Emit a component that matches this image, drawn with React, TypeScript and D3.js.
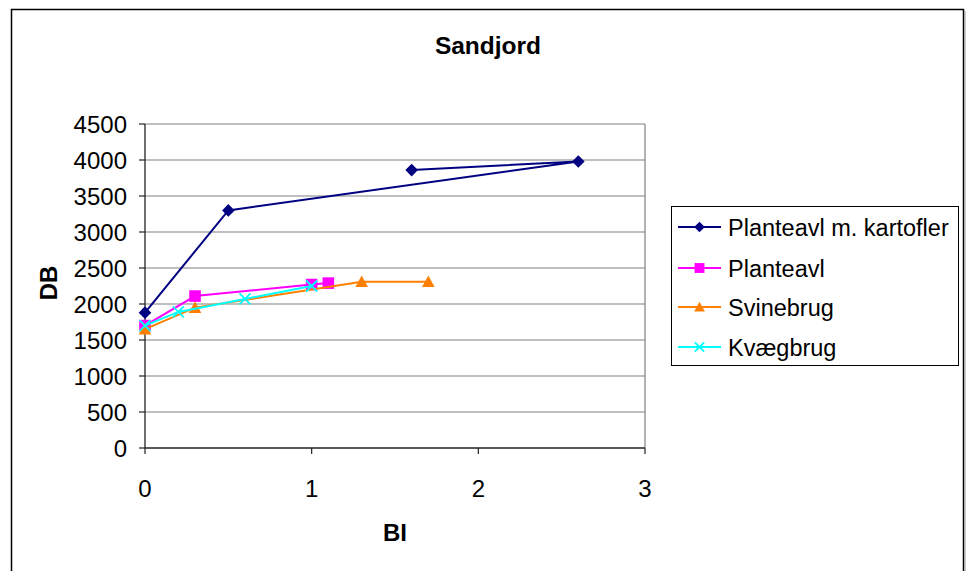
import React from "react";
import * as d3 from "d3";

// BI (x) and DB (y) values for each farm type, in plotting order
const kartoflerBI = [0, 0.5, 2.6, 1.6];
const kartoflerDB = [1880, 3300, 3980, 3860];

const planteavlBI = [0, 0.3, 1.0, 1.1];
const planteavlDB = [1700, 2110, 2270, 2290];

const svinebrugBI = [0, 0.3, 1.3, 1.7];
const svinebrugDB = [1650, 1950, 2310, 2310];

const kvaegbrugBI = [0, 0.2, 0.6, 1.0];
const kvaegbrugDB = [1700, 1890, 2070, 2250];

const seriesNames = ["Planteavl m. kartofler", "Planteavl", "Svinebrug", "Kvægbrug"];
const seriesColors = ["#000080", "#ff00ff", "#ff8000", "#00ffff"];
const seriesMarkers = ["diamond", "square", "triangle", "cross"];

const xTicks = [0, 1, 2, 3];
const yTicks = [0, 500, 1000, 1500, 2000, 2500, 3000, 3500, 4000, 4500];

const W = 967;
const H = 571;
const plot = { left: 145, right: 645, top: 124, bottom: 448 };
const font = "'Liberation Sans', Arial, sans-serif";

function Marker({ kind, x, y, color, s = 1 }: { kind: string; x: number; y: number; color: string; s?: number }) {
  if (kind === "diamond") {
    const r = 6.3 * s;
    return <path d={`M${x},${y - r}L${x + r},${y}L${x},${y + r}L${x - r},${y}Z`} fill={color} />;
  }
  if (kind === "square") {
    const r = 5.8 * s;
    return <rect x={x - r} y={y - r} width={2 * r} height={2 * r} fill={color} />;
  }
  if (kind === "triangle") {
    const r = 6.3 * s;
    return <path d={`M${x},${y - r}L${x + r},${y + r * 0.85}L${x - r},${y + r * 0.85}Z`} fill={color} />;
  }
  const r = 5.5 * s;
  return (
    <path
      d={`M${x - r},${y - r}L${x + r},${y + r}M${x - r},${y + r}L${x + r},${y - r}`}
      stroke={color}
      strokeWidth={1.8}
      fill="none"
    />
  );
}

export default function App() {
  const x = d3.scaleLinear().domain([0, 3]).range([plot.left, plot.right]);
  const y = d3.scaleLinear().domain([0, 4500]).range([plot.bottom, plot.top]);

  const series = [
    { bi: kartoflerBI, db: kartoflerDB },
    { bi: planteavlBI, db: planteavlDB },
    { bi: svinebrugBI, db: svinebrugDB },
    { bi: kvaegbrugBI, db: kvaegbrugDB },
  ].map((s, i) => ({
    name: seriesNames[i],
    color: seriesColors[i],
    marker: seriesMarkers[i],
    points: s.bi.map((b, j) => [b, s.db[j]] as [number, number]),
  }));

  const line = d3
    .line<[number, number]>()
    .x((d) => x(d[0]))
    .y((d) => y(d[1]));

  const legend = { x: 671, y: 206, w: 287, h: 159 };
  const legendRows = [227, 268, 307, 347];

  return (
    <div style={{ position: "absolute", left: 0, top: 0 }}>
      <svg width={W} height={H} style={{ display: "block", fontFamily: font }}>
        <rect x={0} y={0} width={W} height={H} fill="#fff" />
        {/* chart frame */}
        <path d={`M11.5,${H}V9.5H963.5V${H}`} fill="none" stroke="#000" strokeWidth={1.5} />
        <line x1={965} x2={965} y1={11} y2={H} stroke="#999" strokeWidth={1} />

        <text x={488} y={54} textAnchor="middle" fontSize={24.5} fontWeight="bold">
          Sandjord
        </text>

        {/* grid */}
        {yTicks.map((t) =>
          t === 0 ? null : (
            <line key={t} x1={plot.left} x2={plot.right} y1={y(t)} y2={y(t)} stroke="#808080" strokeWidth={1.2} />
          )
        )}
        <line x1={plot.right} x2={plot.right} y1={plot.top} y2={plot.bottom} stroke="#808080" strokeWidth={1.2} />

        {/* axes */}
        <line x1={plot.left} x2={plot.left} y1={plot.top} y2={plot.bottom} stroke="#222" strokeWidth={1.3} />
        <line x1={plot.left} x2={plot.right} y1={plot.bottom} y2={plot.bottom} stroke="#222" strokeWidth={1.3} />
        {yTicks.map((t) => (
          <g key={t}>
            <line x1={plot.left - 6} x2={plot.left} y1={y(t)} y2={y(t)} stroke="#222" strokeWidth={1.2} />
            <text x={127} y={y(t) + 8.6} textAnchor="end" fontSize={24}>
              {t}
            </text>
          </g>
        ))}
        {xTicks.map((t) => (
          <g key={t}>
            <line x1={x(t)} x2={x(t)} y1={plot.bottom} y2={plot.bottom + 6} stroke="#222" strokeWidth={1.2} />
            <text x={x(t)} y={497} textAnchor="middle" fontSize={24}>
              {t}
            </text>
          </g>
        ))}

        <text x={395} y={541} textAnchor="middle" fontSize={24} fontWeight="bold">
          BI
        </text>
        <text
          transform="translate(57,283) rotate(-90)"
          textAnchor="middle"
          fontSize={24}
          fontWeight="bold"
        >
          DB
        </text>

        {/* series */}
        {series.map((s) => (
          <g key={s.name}>
            <path d={line(s.points) || ""} fill="none" stroke={s.color} strokeWidth={2} />
            {s.points.map((p, j) => (
              <Marker key={j} kind={s.marker} x={x(p[0])} y={y(p[1])} color={s.color} />
            ))}
          </g>
        ))}

        {/* legend */}
        <rect x={legend.x + 0.5} y={legend.y + 0.5} width={legend.w} height={legend.h} fill="#fff" stroke="#000" strokeWidth={1} />
        {series.map((s, i) => (
          <g key={s.name}>
            <line x1={678} x2={721} y1={legendRows[i]} y2={legendRows[i]} stroke={s.color} strokeWidth={2} />
            <Marker kind={s.marker} x={699.5} y={legendRows[i]} color={s.color} s={0.85} />
            <text x={728} y={legendRows[i] + 8.5} fontSize={23.5}>
              {s.name}
            </text>
          </g>
        ))}
      </svg>
    </div>
  );
}
